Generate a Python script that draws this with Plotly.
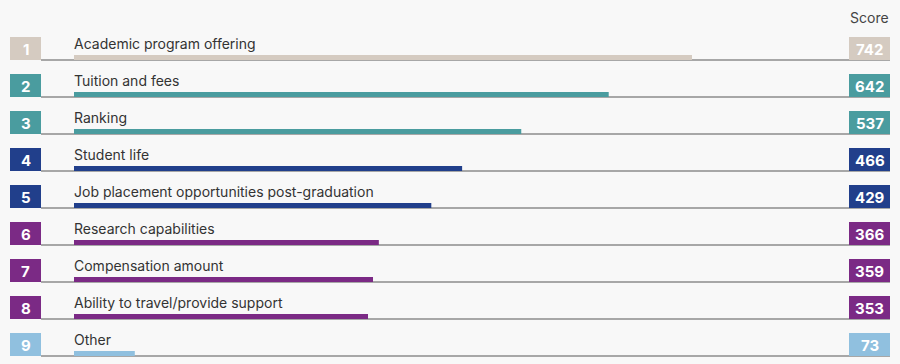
import plotly.graph_objects as go

# ---- data ----
ranks = [1, 2, 3, 4, 5, 6, 7, 8, 9]
labels = [
    "Academic program offering",
    "Tuition and fees",
    "Ranking",
    "Student life",
    "Job placement opportunities post-graduation",
    "Research capabilities",
    "Compensation amount",
    "Ability to travel/provide support",
    "Other",
]
scores = [742, 642, 537, 466, 429, 366, 359, 353, 73]
colors = ["#d5cbc1", "#4a9c9f", "#4a9c9f", "#213f8b", "#213f8b",
          "#7b2a85", "#7b2a85", "#7b2a85", "#90c0df"]

# ---- layout constants (pixels) ----
W, H = 900, 364
BAR_X0 = 74          # pixel where value 0 sits
PX_PER_UNIT = 618 / 742
ROW0 = 60            # baseline pixel of first row
ROW_STEP = 37
BAR_H = 5
BOX_H = 23
FONT = "Inter, Roboto, sans-serif"

def xu(px):   # pixel -> x units
    return (px - BAR_X0) / PX_PER_UNIT

def yu(px):   # pixel offset -> row units
    return px / ROW_STEP

rows = list(range(len(scores)))
fig = go.Figure()

# score bars
fig.add_trace(go.Bar(
    orientation="h", x=scores, y=[r - yu(BAR_H / 2) for r in rows],
    width=yu(BAR_H), base=0, marker=dict(color=colors, line=dict(width=0)),
    hoverinfo="skip", showlegend=False))

# rank boxes
fig.add_trace(go.Bar(
    orientation="h", x=[31 / PX_PER_UNIT] * len(rows),
    y=[r - yu(BOX_H / 2) for r in rows], width=yu(BOX_H), base=xu(10),
    marker=dict(color=colors, line=dict(width=0)),
    hoverinfo="skip", showlegend=False, cliponaxis=False))

# score boxes
fig.add_trace(go.Bar(
    orientation="h", x=[41 / PX_PER_UNIT] * len(rows),
    y=[r - yu(BOX_H / 2) for r in rows], width=yu(BOX_H), base=xu(849),
    marker=dict(color=colors, line=dict(width=0)),
    hoverinfo="skip", showlegend=False, cliponaxis=False))

shapes = []
annotations = []
for r, lab, rk, sc in zip(rows, labels, ranks, scores):
    shapes.append(dict(type="line", xref="x", yref="y", x0=xu(41), x1=xu(890),
                       y0=r, y1=r, line=dict(color="#8c8c8c", width=1.3), layer="below"))
    annotations.append(dict(x=xu(72), y=r - yu(16.5), xref="x", yref="y", text=lab,
                            showarrow=False, xanchor="left", yanchor="middle",
                            font=dict(family=FONT, size=14, color="#333333")))
    annotations.append(dict(x=xu(25.5), y=r - yu(BOX_H / 2) + yu(0.5), xref="x", yref="y",
                            text=f"<b>{rk}</b>", showarrow=False,
                            xanchor="center", yanchor="middle",
                            font=dict(family=FONT, size=15, color="#ffffff")))
    annotations.append(dict(x=xu(869.5), y=r - yu(BOX_H / 2) + yu(0.5), xref="x", yref="y",
                            text=f"<b>{sc}</b>", showarrow=False,
                            xanchor="center", yanchor="middle",
                            font=dict(family=FONT, size=15, color="#ffffff")))

annotations.append(dict(x=xu(869), y=-yu(43), xref="x", yref="y", text="Score",
                        showarrow=False, xanchor="center", yanchor="middle",
                        font=dict(family=FONT, size=14, color="#444444")))

fig.update_layout(
    width=W, height=H, margin=dict(l=0, r=0, t=0, b=0),
    paper_bgcolor="#f8f8f8", plot_bgcolor="#f8f8f8",
    barmode="overlay",
    xaxis=dict(range=[xu(0), xu(W)], visible=False, fixedrange=True),
    yaxis=dict(range=[yu(H - ROW0), -yu(ROW0)], visible=False, fixedrange=True),
    shapes=shapes, annotations=annotations,
)

fig.write_html("out.html", config={"displayModeBar": False},
               post_script="document.body.style.margin='0';document.body.style.background='#f8f8f8';")
